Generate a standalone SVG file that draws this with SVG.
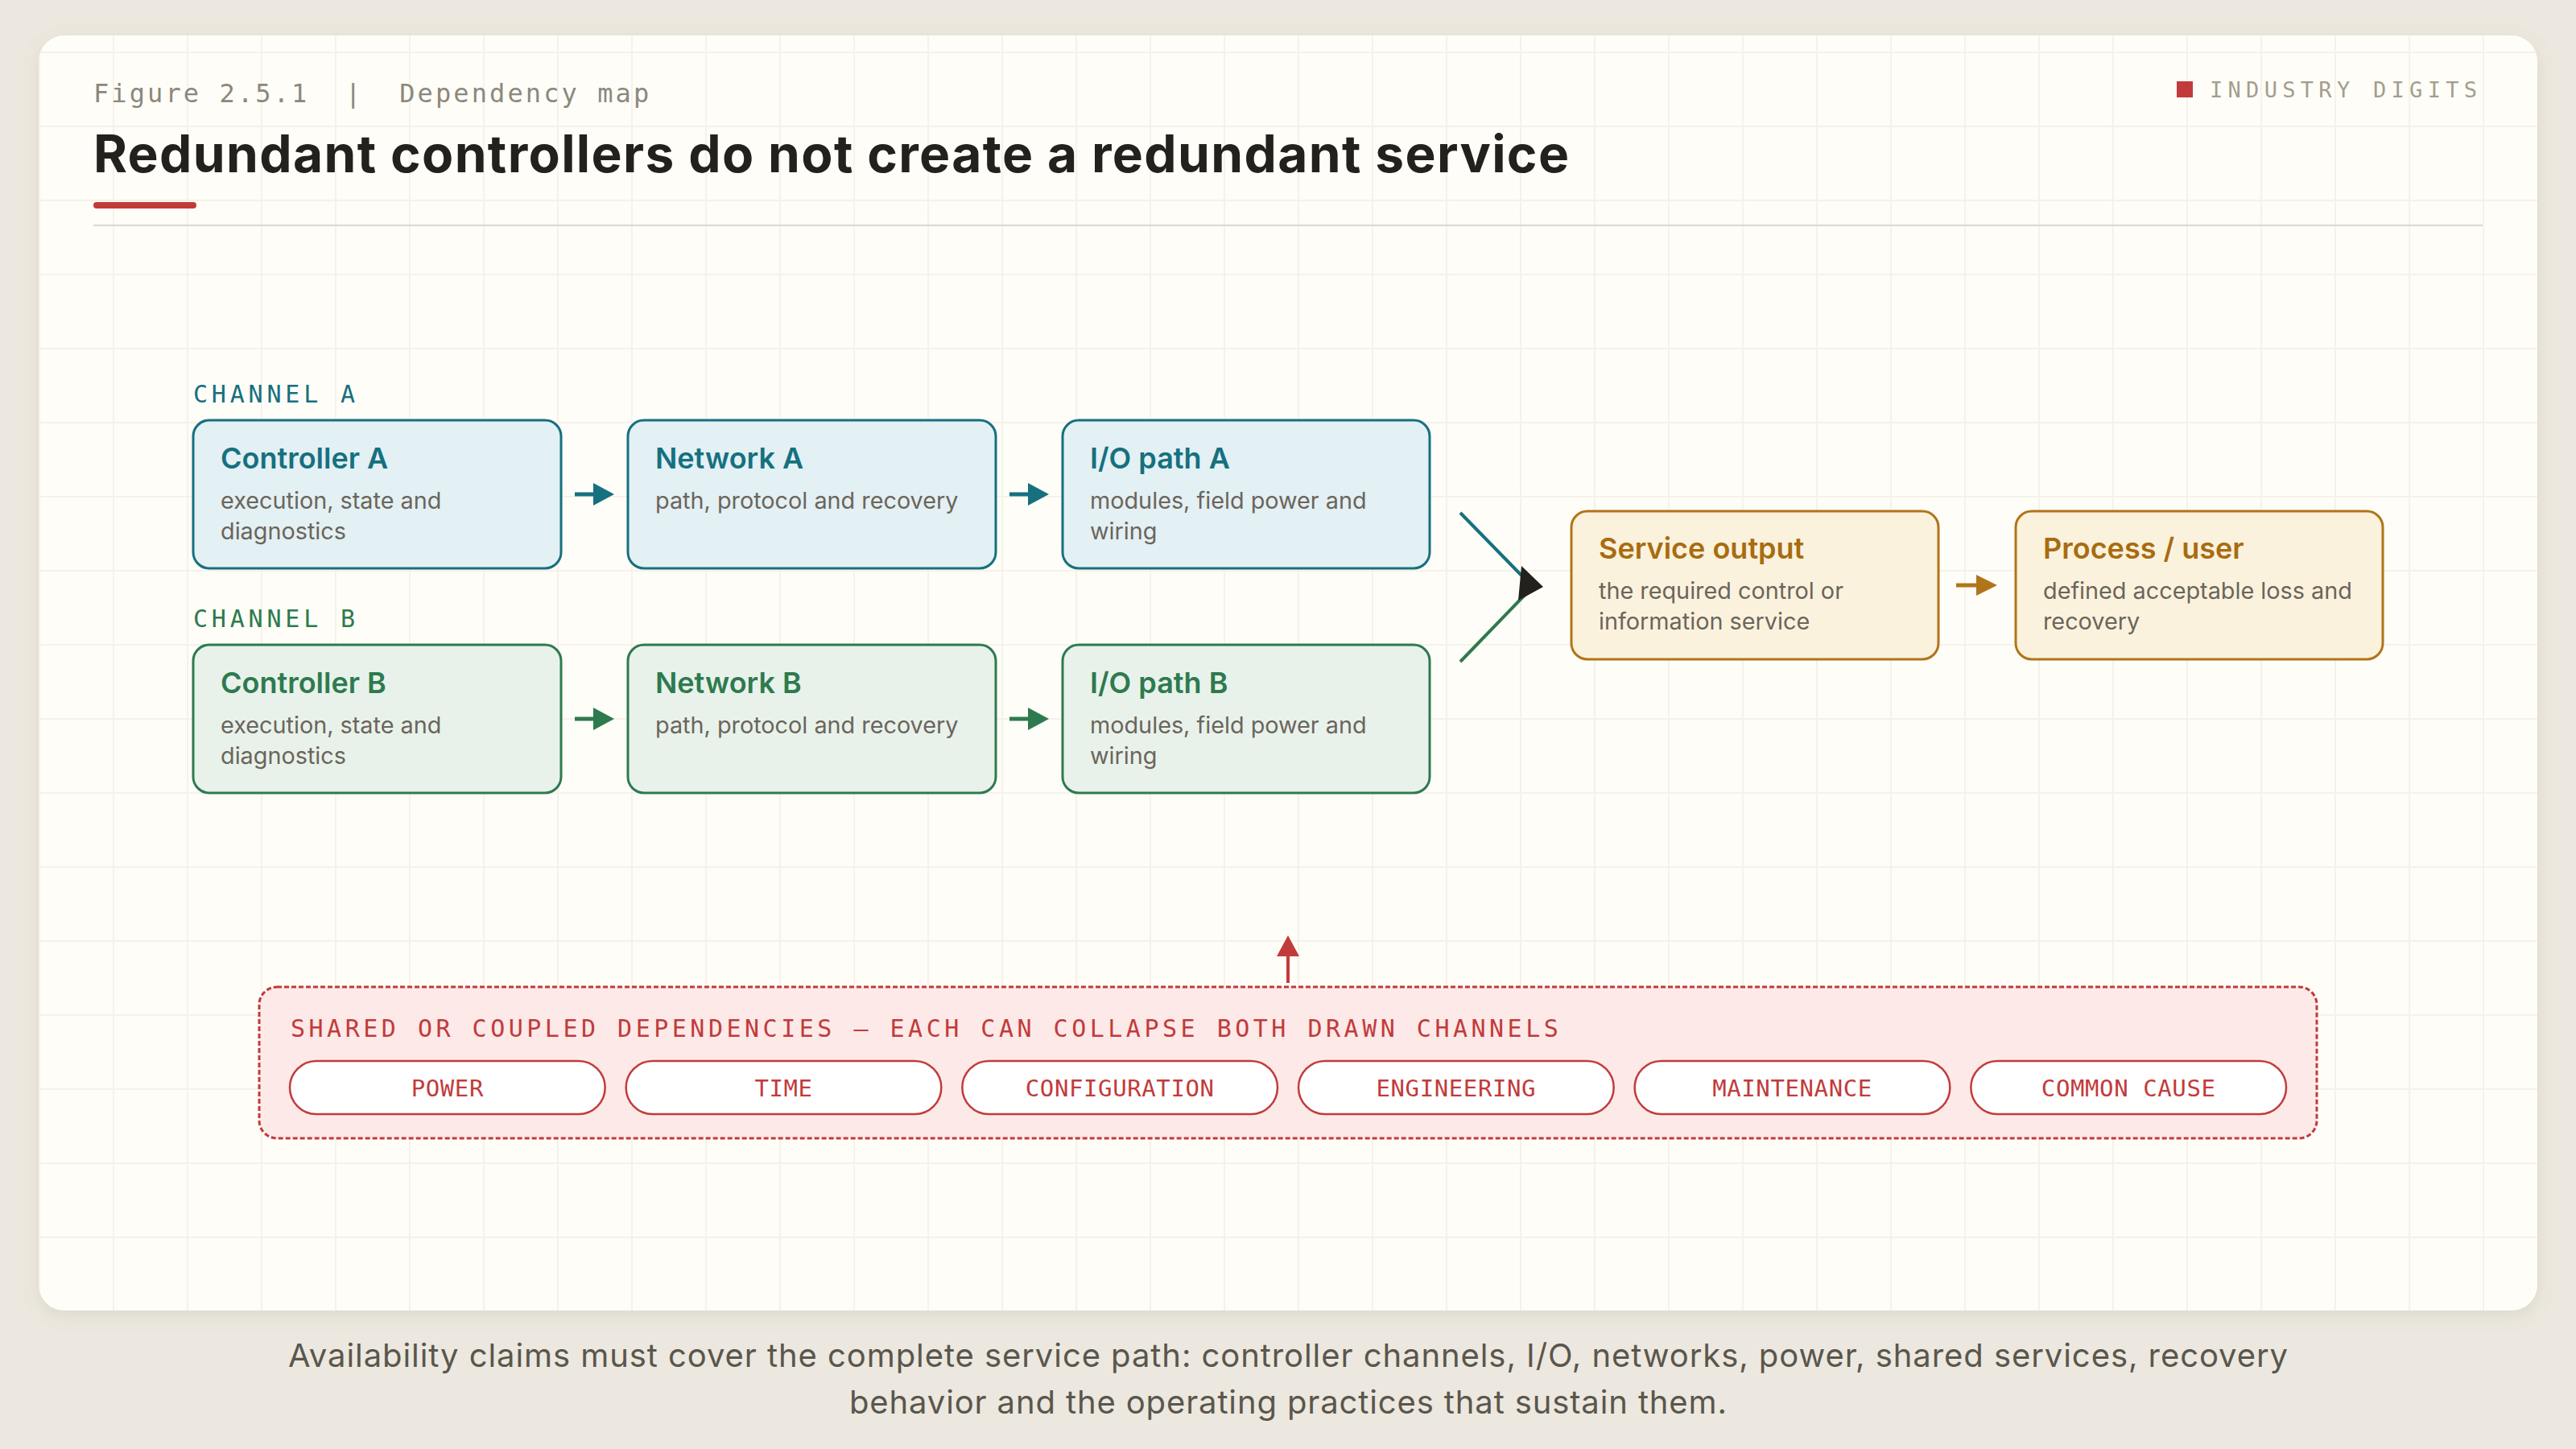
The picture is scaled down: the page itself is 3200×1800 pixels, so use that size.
<svg xmlns="http://www.w3.org/2000/svg" width="3200" height="1800" viewBox="0 0 3200 1800">
<defs>
<style>
.mono{font-family:"DejaVu Sans Mono","Liberation Mono",monospace}
.sans{font-family:Inter,"Noto Sans","Liberation Sans",sans-serif}
.ntitle{font-family:Inter,"Noto Sans","Liberation Sans",sans-serif;font-size:36px;font-weight:600}
.ndesc{font-family:Inter,"Noto Sans","Liberation Sans",sans-serif;font-size:28.8px;fill:#6b655b}
.boxA{fill:#e3f0f4;stroke:#16707f;stroke-width:3}
.boxB{fill:#e8f2eb;stroke:#2e7a4f;stroke-width:3}
.boxS{fill:#fbf2dd;stroke:#b07519;stroke-width:3}
.tA{fill:#16707f}.tB{fill:#2e7a4f}.tS{fill:#a86c10}
.pill{fill:#ffffff;stroke:#c23b3b;stroke-width:2.5}
.pilltext{font-family:"DejaVu Sans Mono","Liberation Mono",monospace;font-size:29px;fill:#c23b3b;text-anchor:middle;letter-spacing:0.6px}
</style>
<pattern id="grid" patternUnits="userSpaceOnUse" x="48" y="64" width="92" height="92">
<rect x="0" y="0" width="92" height="2" fill="#f5f2ea"/>
<rect x="0" y="0" width="2" height="92" fill="#f5f2ea"/>
</pattern>
<filter id="shadow" x="-5%" y="-5%" width="110%" height="115%">
<feDropShadow dx="0" dy="6" stdDeviation="10" flood-color="#8a7f66" flood-opacity="0.16"/>
</filter>
<marker id="hA" markerUnits="userSpaceOnUse" viewBox="0 0 26 28" markerWidth="26" markerHeight="28" refX="0" refY="14" orient="auto"><path d="M0,0 L26,14 L0,28 Z" fill="#16707f"/></marker>
<marker id="hB" markerUnits="userSpaceOnUse" viewBox="0 0 26 28" markerWidth="26" markerHeight="28" refX="0" refY="14" orient="auto"><path d="M0,0 L26,14 L0,28 Z" fill="#2e7a4f"/></marker>
<marker id="hS" markerUnits="userSpaceOnUse" viewBox="0 0 26 26" markerWidth="26" markerHeight="26" refX="0" refY="13" orient="auto"><path d="M0,0 L26,13 L0,26 Z" fill="#b07519"/></marker>
<marker id="hR" markerUnits="userSpaceOnUse" viewBox="0 0 26 28" markerWidth="26" markerHeight="28" refX="0" refY="14" orient="auto"><path d="M0,0 L26,14 L0,28 Z" fill="#c23b3b"/></marker>
</defs>

<rect x="0" y="0" width="3200" height="1800" fill="#ece8df"/>
<rect x="48" y="44" width="3104" height="1584" rx="32" fill="#fffdf7" filter="url(#shadow)"/>
<rect x="48" y="44" width="3104" height="1584" rx="32" fill="url(#grid)"/>

<g id="header">
<text class="mono" x="116" y="127" font-size="32" letter-spacing="3.1" fill="#8c887d" xml:space="preserve">Figure 2.5.1  |  Dependency map</text>
<text class="sans" x="116" y="214" font-size="64" font-weight="700" fill="#22211d" textLength="1833" lengthAdjust="spacing">Redundant controllers do not create a redundant service</text>
<rect x="116" y="251" width="128" height="8" rx="4" fill="#c23b3b"/>
<rect x="116" y="279" width="2968" height="2" fill="#dcd8cc"/>
<rect x="2704" y="101" width="20" height="20" fill="#c23b3b"/>
<text class="mono" x="2745" y="121" font-size="27" letter-spacing="6.3" fill="#a39e8f">INDUSTRY DIGITS</text>
</g>

<g id="labels">
<text class="mono" x="240" y="500" font-size="30" letter-spacing="4.8" fill="#16707f">CHANNEL A</text>
<text class="mono" x="240" y="779" font-size="30" letter-spacing="4.8" fill="#2e7a4f">CHANNEL B</text>
</g>

<g id="connectors">
<line x1="714" y1="614" x2="737" y2="614" stroke="#16707f" stroke-width="5" marker-end="url(#hA)"/>
<line x1="1254" y1="614" x2="1277" y2="614" stroke="#16707f" stroke-width="5" marker-end="url(#hA)"/>
<line x1="714" y1="893" x2="737" y2="893" stroke="#2e7a4f" stroke-width="5" marker-end="url(#hB)"/>
<line x1="1254" y1="893" x2="1277" y2="893" stroke="#2e7a4f" stroke-width="5" marker-end="url(#hB)"/>
<line x1="1814" y1="637" x2="1900" y2="725" stroke="#16707f" stroke-width="4"/>
<line x1="1814" y1="822" x2="1900" y2="733" stroke="#2e7a4f" stroke-width="4"/>
<polygon points="1917,729 1890,703 1886,746" fill="#22211d"/>
<line x1="2430" y1="727" x2="2455" y2="727" stroke="#b07519" stroke-width="5" marker-end="url(#hS)"/>
<line x1="1600" y1="1221" x2="1600" y2="1188" stroke="#c23b3b" stroke-width="4" marker-end="url(#hR)"/>
</g>

<g id="controller-a">
<rect class="boxA" x="240" y="522" width="457" height="184" rx="20"/>
<text class="ntitle tA" x="274" y="582">Controller A</text>
<text class="ndesc" x="274" y="632">execution, state and</text>
<text class="ndesc" x="274" y="670">diagnostics</text>
</g>
<g id="network-a">
<rect class="boxA" x="780" y="522" width="457" height="184" rx="20"/>
<text class="ntitle tA" x="814" y="582">Network A</text>
<text class="ndesc" x="814" y="632">path, protocol and recovery</text>
</g>
<g id="io-a">
<rect class="boxA" x="1320" y="522" width="456" height="184" rx="20"/>
<text class="ntitle tA" x="1354" y="582">I/O path A</text>
<text class="ndesc" x="1354" y="632">modules, field power and</text>
<text class="ndesc" x="1354" y="670">wiring</text>
</g>

<g id="controller-b">
<rect class="boxB" x="240" y="801" width="457" height="184" rx="20"/>
<text class="ntitle tB" x="274" y="861">Controller B</text>
<text class="ndesc" x="274" y="911">execution, state and</text>
<text class="ndesc" x="274" y="949">diagnostics</text>
</g>
<g id="network-b">
<rect class="boxB" x="780" y="801" width="457" height="184" rx="20"/>
<text class="ntitle tB" x="814" y="861">Network B</text>
<text class="ndesc" x="814" y="911">path, protocol and recovery</text>
</g>
<g id="io-b">
<rect class="boxB" x="1320" y="801" width="456" height="184" rx="20"/>
<text class="ntitle tB" x="1354" y="861">I/O path B</text>
<text class="ndesc" x="1354" y="911">modules, field power and</text>
<text class="ndesc" x="1354" y="949">wiring</text>
</g>

<g id="service-output">
<rect class="boxS" x="1952" y="635" width="456" height="184" rx="20"/>
<text class="ntitle tS" x="1986" y="694">Service output</text>
<text class="ndesc" x="1986" y="744">the required control or</text>
<text class="ndesc" x="1986" y="782">information service</text>
</g>
<g id="process-user">
<rect class="boxS" x="2504" y="635" width="456" height="184" rx="20"/>
<text class="ntitle tS" x="2538" y="694">Process / user</text>
<text class="ndesc" x="2538" y="744">defined acceptable loss and</text>
<text class="ndesc" x="2538" y="782">recovery</text>
</g>

<g id="shared-dependencies">
<rect x="322" y="1226" width="2556" height="188" rx="22" fill="#fce9e8" stroke="#c23b3b" stroke-width="3" stroke-dasharray="6 3"/>
<text class="mono" x="361" y="1288" font-size="30" letter-spacing="4.5" fill="#c23b3b">SHARED OR COUPLED DEPENDENCIES — EACH CAN COLLAPSE BOTH DRAWN CHANNELS</text>
</g>
<g id="dep-power"><rect class="pill" x="360" y="1318" width="391.67" height="66" rx="33"/><text class="pilltext" x="555.8" y="1362">POWER</text></g>
<g id="dep-time"><rect class="pill" x="777.67" y="1318" width="391.67" height="66" rx="33"/><text class="pilltext" x="973.5" y="1362">TIME</text></g>
<g id="dep-configuration"><rect class="pill" x="1195.33" y="1318" width="391.67" height="66" rx="33"/><text class="pilltext" x="1391.2" y="1362">CONFIGURATION</text></g>
<g id="dep-engineering"><rect class="pill" x="1613" y="1318" width="391.67" height="66" rx="33"/><text class="pilltext" x="1808.8" y="1362">ENGINEERING</text></g>
<g id="dep-maintenance"><rect class="pill" x="2030.67" y="1318" width="391.67" height="66" rx="33"/><text class="pilltext" x="2226.5" y="1362">MAINTENANCE</text></g>
<g id="dep-common-cause"><rect class="pill" x="2448.33" y="1318" width="391.67" height="66" rx="33"/><text class="pilltext" x="2644.2" y="1362">COMMON CAUSE</text></g>

<g id="caption">
<text class="sans" x="1600" y="1698" font-size="40" fill="#5a564d" text-anchor="middle" textLength="2484" lengthAdjust="spacing">Availability claims must cover the complete service path: controller channels, I/O, networks, power, shared services, recovery</text>
<text class="sans" x="1600" y="1756" font-size="40" fill="#5a564d" text-anchor="middle" textLength="1090" lengthAdjust="spacing">behavior and the operating practices that sustain them.</text>
</g>
</svg>
